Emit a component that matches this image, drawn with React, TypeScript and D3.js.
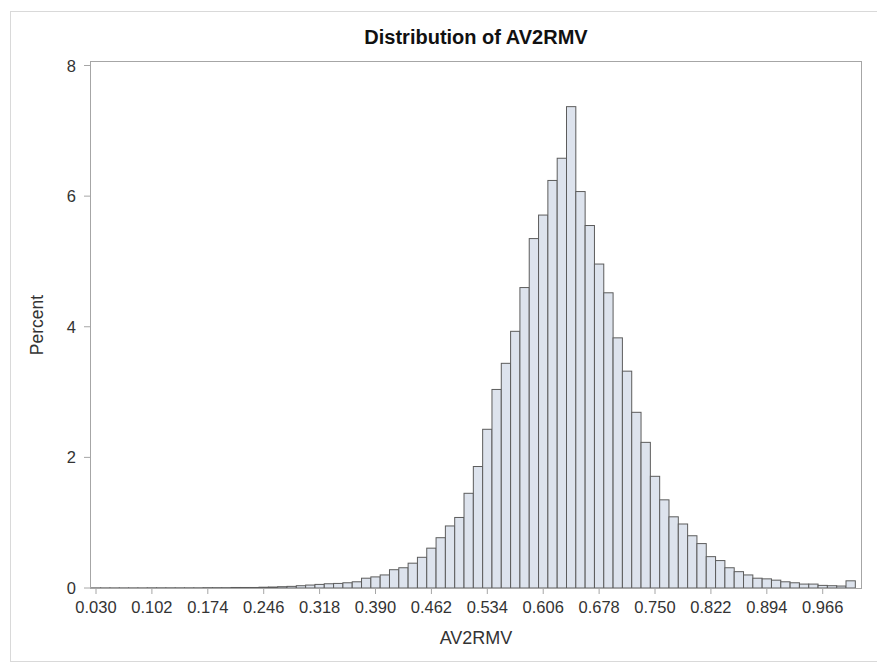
import React from "react";
import * as d3 from "d3";

// ---- Data ----
const binStart = 0.03; // midpoint of the first bin
const binWidth = 0.012;
const percents: number[] = [
  0.002, 0.002, 0.002, 0.002, 0.002, 0.002, 0.003, 0.003, 0.003, 0.003,
  0.003, 0.003, 0.005, 0.005, 0.005, 0.008, 0.008, 0.008, 0.012, 0.015,
  0.02, 0.025, 0.035, 0.045, 0.055, 0.065, 0.07, 0.08, 0.095, 0.15,
  0.17, 0.2, 0.28, 0.31, 0.38, 0.47, 0.61, 0.77, 0.95, 1.08,
  1.45, 1.86, 2.43, 3.04, 3.44, 3.93, 4.6, 5.35, 5.71, 6.24,
  6.58, 7.37, 6.07, 5.55, 4.96, 4.52, 3.83, 3.32, 2.69, 2.23,
  1.71, 1.35, 1.09, 0.98, 0.8, 0.68, 0.48, 0.42, 0.31, 0.25,
  0.2, 0.15, 0.14, 0.12, 0.095, 0.08, 0.06, 0.06, 0.04, 0.035,
  0.03, 0.11,
];
const xTicks: number[] = [0.03, 0.102, 0.174, 0.246, 0.318, 0.39, 0.462, 0.534, 0.606, 0.678, 0.75, 0.822, 0.894, 0.966];
const yTicks: number[] = [0, 2, 4, 6, 8];
const title = "Distribution of AV2RMV";
const xLabel = "AV2RMV";
const yLabel = "Percent";

const W = 877;
const H = 667;
const frame = { left: 90, right: 862, top: 61, bottom: 588 };
const FONT = "'Liberation Sans', Arial, sans-serif";

export default function App() {
  const x = d3.scaleLinear().domain([0.02227, 1.0166]).range([frame.left, frame.right]);
  const y = d3.scaleLinear().domain([0, 8]).range([588, 65.5]);
  const bins = percents.map((p, i) => ({ mid: binStart + i * binWidth, p }));
  const fmt = d3.format(".3f");

  return (
    <svg
      width={W}
      height={H}
      style={{ position: "absolute", left: 0, top: 0, background: "#fff" }}
      fontFamily={FONT}
    >
      <rect x={0} y={0} width={W} height={H} fill="#fff" />
      <rect x={10.5} y={11.5} width={870} height={650} fill="none" stroke="#d9d9d9" strokeWidth={1} />

      <text x={476} y={44} textAnchor="middle" fontSize={20} fontWeight="bold" fill="#111">
        {title}
      </text>

      {bins.map((b, i) => {
        const x0 = x(b.mid - binWidth / 2);
        const x1 = x(b.mid + binWidth / 2);
        const yt = y(b.p);
        return (
          <rect
            key={i}
            x={x0}
            y={yt}
            width={x1 - x0}
            height={y(0) - yt}
            fill="#dde3ed"
            stroke="#5c5c5c"
            strokeWidth={1}
          />
        );
      })}

      <rect
        x={frame.left + 0.5}
        y={frame.top + 0.5}
        width={frame.right - frame.left - 1}
        height={frame.bottom - frame.top}
        fill="none"
        stroke="#a6a6a6"
        strokeWidth={1}
      />

      {yTicks.map((t) => (
        <g key={"y" + t}>
          <line x1={84} x2={frame.left} y1={y(t)} y2={y(t)} stroke="#a6a6a6" />
          <text x={76} y={y(t) + 6} textAnchor="end" fontSize={16.5} fill="#333">
            {t}
          </text>
        </g>
      ))}

      {xTicks.map((t) => (
        <g key={"x" + t}>
          <line x1={x(t)} x2={x(t)} y1={588} y2={594} stroke="#a6a6a6" />
          <text x={x(t)} y={613} textAnchor="middle" fontSize={16.5} fill="#333">
            {fmt(t)}
          </text>
        </g>
      ))}

      <text x={476} y={644} textAnchor="middle" fontSize={18} fill="#333">
        {xLabel}
      </text>
      <text
        transform={`translate(43,325) rotate(-90)`}
        textAnchor="middle"
        fontSize={17.5}
        fill="#333"
      >
        {yLabel}
      </text>
    </svg>
  );
}
